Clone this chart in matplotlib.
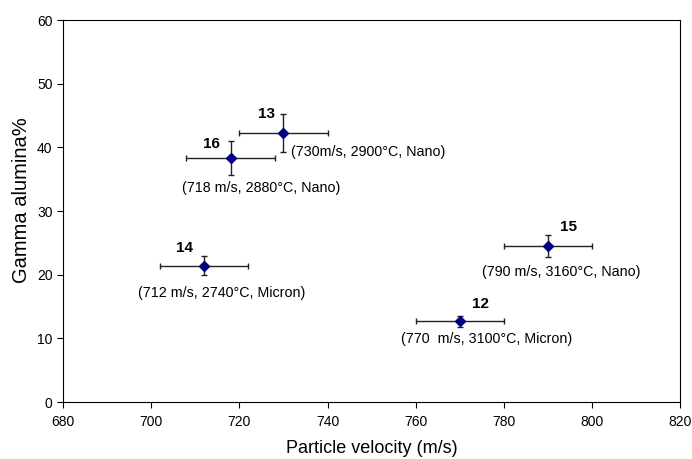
import matplotlib
matplotlib.use("Agg")
import matplotlib.pyplot as plt

plt.rcParams['font.family'] = ['Liberation Sans', 'DejaVu Sans']

# data
run_ids = ['13', '16', '14', '15', '12']
velocity = [730, 718, 712, 790, 770]
gamma = [42.3, 38.3, 21.4, 24.5, 12.7]
vel_err = [10, 10, 10, 10, 10]
gamma_err = [3.0, 2.65, 1.5, 1.7, 0.85]
conditions = ['(730m/s, 2900°C, Nano)', '(718 m/s, 2880°C, Nano)',
              '(712 m/s, 2740°C, Micron)', '(790 m/s, 3160°C, Nano)',
              '(770  m/s, 3100°C, Micron)']

# label offsets in pixels (id label, condition label)
id_offsets = [(-17, 19), (-19, 14), (-20, 18), (21, 19), (21, 17)]
cond_offsets = [(85, -19), (31, -30), (18, -27), (13, -26), (27, -18)]

fig = plt.figure(figsize=(6.92, 4.59), dpi=100)
ax = fig.add_axes([0.091, 0.124, 0.892, 0.832])

ax.errorbar(velocity, gamma, xerr=vel_err, yerr=gamma_err, fmt='D',
            color='#000080', markersize=5.5, ecolor='#222222', elinewidth=1,
            capsize=2.5, capthick=1)

for i in range(len(run_ids)):
    ax.annotate(run_ids[i], (velocity[i], gamma[i]), xytext=id_offsets[i],
                textcoords='offset pixels', ha='center', va='center',
                fontsize=11, fontweight='bold')
    ax.annotate(conditions[i], (velocity[i], gamma[i]), xytext=cond_offsets[i],
                textcoords='offset pixels', ha='center', va='center',
                fontsize=10.3)

ax.set_xlim(680, 820)
ax.set_ylim(0, 60)
ax.set_xticks(range(680, 821, 20))
ax.set_yticks(range(0, 61, 10))
ax.tick_params(direction='out', length=4, labelsize=10)
ax.tick_params(axis='x', pad=5)
ax.set_xlabel('Particle velocity (m/s)', fontsize=13, labelpad=8)
ax.set_ylabel('Gamma alumina%', fontsize=14.5)
ax.yaxis.set_label_coords(-0.052, 0.53)

fig.savefig('out.png', dpi=100)
